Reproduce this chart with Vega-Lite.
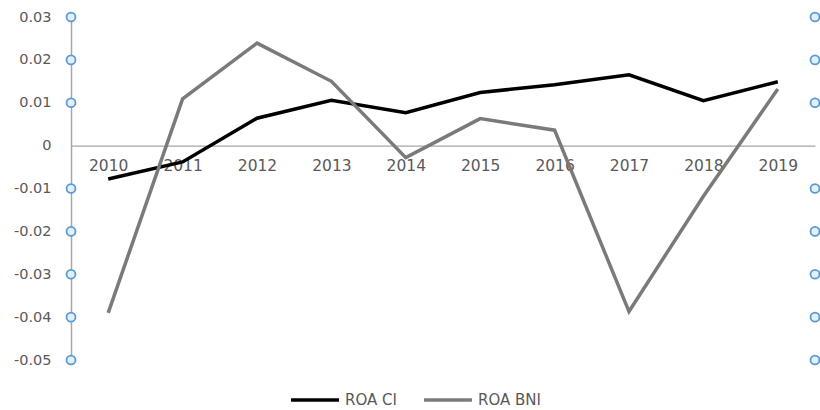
{
  "$schema": "https://vega.github.io/schema/vega-lite/v6.json",
  "autosize": "none",
  "width": 744,
  "height": 343,
  "padding": {"left": 71, "top": 17, "right": 5, "bottom": 50},
  "background": "white",
  "config": {
    "view": {"stroke": null},
    "font": "DejaVu Sans"
  },
  "datasets": {
    "roa": [
      {"year": "2010", "series": "ROA CI", "value": -0.0078},
      {"year": "2011", "series": "ROA CI", "value": -0.0038},
      {"year": "2012", "series": "ROA CI", "value": 0.0064},
      {"year": "2013", "series": "ROA CI", "value": 0.0106},
      {"year": "2014", "series": "ROA CI", "value": 0.0077},
      {"year": "2015", "series": "ROA CI", "value": 0.0124},
      {"year": "2016", "series": "ROA CI", "value": 0.0142},
      {"year": "2017", "series": "ROA CI", "value": 0.0165},
      {"year": "2018", "series": "ROA CI", "value": 0.0105},
      {"year": "2019", "series": "ROA CI", "value": 0.0149},
      {"year": "2010", "series": "ROA BNI", "value": -0.039},
      {"year": "2011", "series": "ROA BNI", "value": 0.0109},
      {"year": "2012", "series": "ROA BNI", "value": 0.0239},
      {"year": "2013", "series": "ROA BNI", "value": 0.015},
      {"year": "2014", "series": "ROA BNI", "value": -0.0028},
      {"year": "2015", "series": "ROA BNI", "value": 0.0063},
      {"year": "2016", "series": "ROA BNI", "value": 0.0036},
      {"year": "2017", "series": "ROA BNI", "value": -0.0387},
      {"year": "2018", "series": "ROA BNI", "value": -0.0118},
      {"year": "2019", "series": "ROA BNI", "value": 0.0132}
    ],
    "handles": [
      {"side": "left", "tick": 0.03}, {"side": "left", "tick": 0.02}, {"side": "left", "tick": 0.01},
      {"side": "left", "tick": -0.01}, {"side": "left", "tick": -0.02}, {"side": "left", "tick": -0.03},
      {"side": "left", "tick": -0.04}, {"side": "left", "tick": -0.05},
      {"side": "right", "tick": 0.03}, {"side": "right", "tick": 0.02}, {"side": "right", "tick": 0.01},
      {"side": "right", "tick": -0.01}, {"side": "right", "tick": -0.02}, {"side": "right", "tick": -0.03},
      {"side": "right", "tick": -0.04}, {"side": "right", "tick": -0.05}
    ]
  },
  "layer": [
    {
      "data": {"name": "roa"},
      "mark": {"type": "line", "strokeWidth": 3.5, "strokeJoin": "miter", "strokeCap": "butt"},
      "encoding": {
        "x": {
          "field": "year", "type": "ordinal",
          "scale": {"type": "point", "padding": 0.5},
          "axis": {
            "title": null, "orient": "bottom", "offset": -214.4,
            "domainColor": "#a6a6a6", "domainWidth": 1.2,
            "ticks": false, "labelPadding": 13, "labelAngle": 0,
            "labelFontSize": 15.5, "labelColor": "#595959", "labelFont": "DejaVu Sans"
          }
        },
        "y": {
          "field": "value", "type": "quantitative",
          "scale": {"domain": [-0.05, 0.03], "nice": false, "zero": false},
          "axis": {
            "title": null, "values": [0.03, 0.02, 0.01, 0, -0.01, -0.02, -0.03, -0.04, -0.05],
            "labelExpr": "datum.value == 0 ? '0' : replace(format(datum.value, '.2f'), '\u2212', '-')",
            "grid": false, "ticks": false, "labelPadding": 20,
            "domainColor": "#a6a6a6", "domainWidth": 1.5,
            "labelFontSize": 14.5, "labelColor": "#595959", "labelFont": "DejaVu Sans"
          }
        },
        "color": {
          "field": "series", "type": "nominal",
          "scale": {"domain": ["ROA CI", "ROA BNI"], "range": ["#000000", "#7a7a7a"]},
          "legend": {
            "title": null, "orient": "none", "direction": "horizontal",
            "legendX": 218, "legendY": 357,
            "symbolType": "stroke", "symbolSize": 2300, "symbolStrokeWidth": 3.5,
            "labelFontSize": 15, "labelColor": "#595959", "labelFont": "DejaVu Sans",
            "labelOffset": 4, "columnPadding": 20
          }
        }
      }
    },
    {
      "data": {"name": "handles"},
      "mark": {"type": "point", "shape": "circle", "filled": false, "size": 80, "stroke": "#5b9bd5", "strokeWidth": 1.8, "fill": "#e4eff9", "fillOpacity": 1},
      "encoding": {
        "x": {"field": "side", "type": "nominal", "scale": {"type": "point", "padding": 0, "domain": ["left", "right"]}, "axis": null},
        "y": {"field": "tick", "type": "quantitative"}
      }
    }
  ],
  "resolve": {"scale": {"x": "independent"}, "axis": {"x": "independent"}}
}
